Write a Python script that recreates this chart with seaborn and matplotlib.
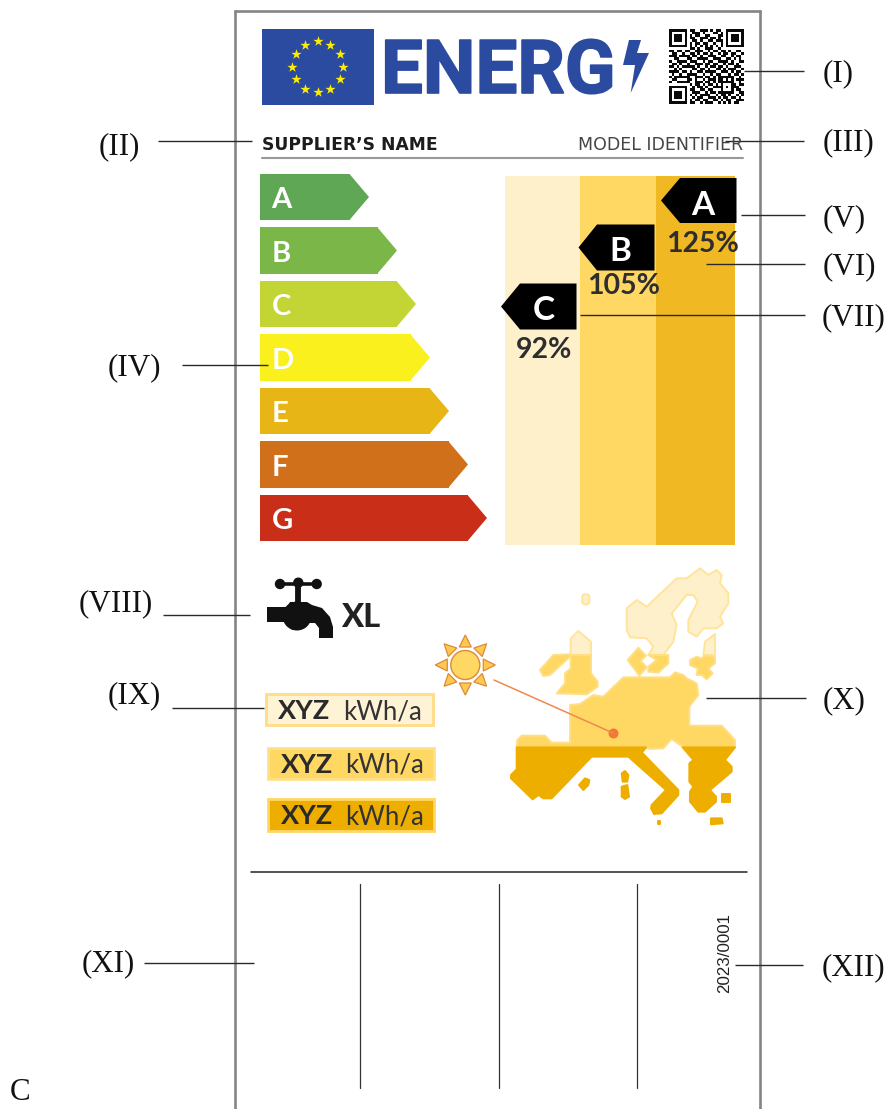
import numpy as np
import matplotlib
matplotlib.use("Agg")
import matplotlib.pyplot as plt
import matplotlib.patheffects as pe
from matplotlib.patches import Polygon, Rectangle, Circle
import seaborn as sns

W, H = 887, 1109

# rating scale
classes = ["A", "B", "C", "D", "E", "F", "G"]
class_lengths = [109, 137, 156, 170, 189, 208, 227]
class_colors = ["#5FA655", "#7AB648", "#C3D435", "#FAF01E", "#E8B517", "#D1701A", "#C92E18"]

# climate zones and efficiencies
zones = ["cold", "average", "warm"]
zone_heights = [1, 1, 1]
zone_colors = ["#FFF0CC", "#FFD763", "#F0B823"]
tag_classes = ["A", "B", "C"]
tag_percents = ["125%", "105%", "92%"]

# annual consumption boxes
consumption = ["XYZ", "XYZ", "XYZ"]
consumption_unit = "kWh/a"
tap_size = "XL"

# callout labels
labels_left = ["(II)", "(IV)", "(VIII)", "(IX)", "(XI)"]
labels_right = ["(I)", "(III)", "(V)", "(VI)", "(VII)", "(X)", "(XII)"]

qr_rows = [
    "11111110110011101011001111111",
    "10000010011101000110101000001",
    "10111010101100110001101011101",
    "10111010110011101101001011101",
    "10111010011010011011101011101",
    "10000010101101100100101000001",
    "11111110101010101010101111111",
    "00000000110100111001000000000",
    "11011011001110010110110100110",
    "01100100110101101001011011001",
    "11101111011010011100110010110",
    "00110001100111100111001101010",
    "10011110111001011001111010011",
    "01101001001110110110010110100",
    "11010111110100101101101001110",
    "00101000011011010011010111001",
    "11110110100110111100111010110",
    "01001001111001001011000101101",
    "10111111001110110101111110010",
    "01100001101001011101101010111",
    "10011111001110110101111110010",
    "00000000101101011010100011011",
    "11111110010110100111101011100",
    "10000010110011011000100010110",
    "10111010011100101101111110011",
    "10111010101011110010110100101",
    "10111010010110011101011011010",
    "10000010101101100110101100111",
    "11111110110010111001010101100",
]

# map outlines, traced at 3x from the map corner
map_pale = [
    [(590, 145), (620, 120), (650, 140), (740, 55), (770, 55), (810, 25), (835, 45), (860, 30), (875, 45),
     (870, 70), (895, 100), (895, 130), (870, 170), (880, 190), (860, 205), (820, 205), (800, 230), (775, 215),
     (775, 180), (803, 125), (790, 105), (770, 105), (725, 160), (740, 195), (730, 245), (700, 285), (655, 285),
     (670, 260), (650, 235), (600, 232), (590, 210)],
    [(820, 285), (825, 245), (855, 222), (855, 285)],
    [(422, 285), (422, 235), (445, 213), (483, 245), (483, 285)],
    [(457, 108), (462, 103), (473, 103), (478, 108), (478, 128), (473, 133), (462, 133), (457, 128)],
]
map_mid = [
    [(420, 435), (450, 432), (490, 405), (520, 410), (580, 352), (720, 352), (735, 337), (760, 345), (770, 355),
     (800, 370), (805, 405), (778, 440), (778, 497), (875, 497), (915, 540), (915, 562), (760, 562), (725, 537),
     (700, 565), (660, 567), (640, 562), (260, 562), (262, 540), (275, 527), (345, 527), (365, 548), (420, 548)],
    [(422, 285), (483, 285), (483, 340), (503, 365), (503, 380), (470, 403), (380, 400), (405, 370), (405, 340), (422, 325)],
    [(330, 330), (370, 285), (420, 283), (420, 290), (360, 345), (340, 348)],
    [(593, 300), (625, 263), (648, 287), (632, 303), (650, 322), (628, 347)],
    [(655, 285), (715, 285), (715, 310), (685, 338), (655, 335), (655, 320), (680, 300)],
    [(780, 300), (800, 290), (815, 295), (825, 285), (855, 290), (855, 310), (835, 325), (848, 340), (830, 358),
     (815, 345), (800, 345), (803, 325), (780, 315)],
]
map_dark = [
    [(260, 562), (648, 562), (636, 578), (745, 690), (745, 705), (695, 760), (672, 762), (663, 745), (665, 735),
     (708, 690), (595, 590), (485, 590), (365, 715), (340, 715), (325, 705), (308, 718), (243, 655), (243, 645), (260, 628)],
    [(758, 562), (915, 562), (885, 600), (905, 620), (905, 635), (840, 690), (858, 710), (858, 725), (825, 755),
     (805, 755), (780, 725), (780, 695), (790, 680), (778, 665), (778, 610), (790, 600)],
    [(447, 675), (465, 655), (478, 660), (475, 675), (460, 690)],
    [(575, 640), (585, 633), (595, 645), (592, 665), (578, 665)],
    [(575, 680), (592, 675), (597, 710), (585, 717), (575, 710)],
    [(875, 703), (900, 703), (900, 727), (875, 727)],
    [(843, 775), (875, 775), (878, 790), (843, 793)],
    [(685, 782), (689, 782), (689, 793), (685, 793)],
]

sns.set_theme(style="white")
plt.rcParams["font.family"] = ["Lato", "DejaVu Sans"]

SERIF = "Liberation Serif"
BLUE = "#2B4BA0"
TIP = 19


def px_axes(x0, y0, x1, y1, zorder=1):
    a = fig.add_axes([x0 / W, 1 - y1 / H, (x1 - x0) / W, (y1 - y0) / H], zorder=zorder)
    return a


def map_px(points):
    return [(430 + x / 3, 560 + y / 3) for x, y in points]


fig = plt.figure(figsize=(W / 100, H / 100), dpi=100, facecolor="white")

# rating arrows: one unit on x is one pixel
ax_bars = px_axes(260, 170.25, 487, 544.75)
sns.barplot(x=class_lengths, y=classes, hue=classes, palette=class_colors, legend=False, orient="h",
            width=0.86, saturation=1, linewidth=0, ax=ax_bars)
ax_bars.set_xlim(0, 227)
ax_bars.set_ylim(6.5, -0.5)
ax_bars.axis("off")
for patch, name, color in zip(ax_bars.patches, classes, class_colors):
    top, bottom = patch.get_y(), patch.get_y() + patch.get_height()
    body = patch.get_width() - TIP
    patch.set_width(body)
    # the tip starts a bit inside the bar so no seam shows
    ax_bars.add_patch(Polygon([(body - 0.5, top), (body + TIP, (top + bottom) / 2), (body - 0.5, bottom)],
                              facecolor=color, edgecolor="none"))
    ax_bars.text(11.5, bottom - 0.22, name, color="white", fontsize=21, fontweight="bold", ha="left", va="baseline")

# climate bands
ax_bands = px_axes(505, 176, 735.5, 545)
sns.barplot(x=zones, y=zone_heights, hue=zones, palette=zone_colors, legend=False, width=1, saturation=1,
            linewidth=0, ax=ax_bands)
ax_bands.set_xlim(505, 735.5)
ax_bands.set_ylim(0, 1)
ax_bands.axis("off")
for patch, (a, b) in zip(ax_bands.patches, [(505, 580.3), (580, 656), (655.7, 735.5)]):
    patch.set_x(a)
    patch.set_width(b - a)

# QR code
ax_qr = px_axes(669, 29, 744, 104)
qr = np.array([[int(c) for c in row] for row in qr_rows])
sns.heatmap(qr, cmap=["white", "#0A0A0A"], cbar=False, xticklabels=False, yticklabels=False, square=False, ax=ax_qr)

# everything else sits on a transparent overlay in pixel coordinates
ax = px_axes(0, 0, W, H, zorder=5)
ax.set_xlim(0, W)
ax.set_ylim(H, 0)
ax.axis("off")
ax.patch.set_alpha(0)

# label frame
for xs, ys in [([235.5, 235.5], [10, H]), ([760, 760], [10, H]), ([234.5, 761], [11, 11])]:
    ax.plot(xs, ys, color="#858585", lw=1.9, solid_capstyle="butt")

# flag
ax.add_patch(Rectangle((262, 29), 112, 76, facecolor=BLUE, edgecolor="none"))
angles = np.deg2rad(np.arange(0, 360, 30))
ax.scatter(317.7 + 25.3 * np.cos(angles), 66.7 + 25.3 * np.sin(angles), marker="*", s=60, color="#FFED00", linewidths=0)

# logo
ax.text(381, 93, "ENERG", color=BLUE, family="Roboto", fontweight="bold", fontsize=53.6, ha="left", va="baseline",
        path_effects=[pe.withStroke(linewidth=1.2, foreground=BLUE)])
ax.add_patch(Polygon([(629, 40), (641, 40), (637, 53), (649, 53), (630.7, 93), (635, 65), (623, 65)],
                     facecolor=BLUE, edgecolor="none"))

# supplier row
ax.text(262, 150, "SUPPLIER’S NAME", family="DejaVu Sans", fontweight="bold", fontsize=12.3, color="#1C1C1C", va="baseline")
ax.text(743, 150, "MODEL IDENTIFIER", family="DejaVu Sans", fontsize=12.5, color="#454545", ha="right", va="baseline")
ax.plot([262, 743], [158, 158], color="#999999", lw=1.5)

# climate tags
tag_boxes = [(661, 680, 736.5, 178, 223), (578.5, 597, 654.5, 224.5, 270.5), (501, 520, 576.5, 283.5, 329.5)]
letter_pos = [(702.7, 215), (620.7, 261), (544, 320)]
percent_pos = [(703, 252), (623.5, 294.3), (544.5, 358.3)]
for box, name, pct, lp, pp in zip(tag_boxes, tag_classes, tag_percents, letter_pos, percent_pos):
    tip, shoulder, right, top, bottom = box
    ax.add_patch(Polygon([(tip, (top + bottom) / 2), (shoulder, top), (right, top), (right, bottom), (shoulder, bottom)],
                         facecolor="black", edgecolor="none"))
    ax.text(lp[0], lp[1], name, color="white", fontsize=24, fontweight="bold", ha="center", va="baseline")
    ax.text(pp[0], pp[1], pct, color="#2E2E2E", fontsize=20.5, fontweight="bold", ha="center", va="baseline")

# tap icon
ax.add_patch(Polygon([(267, 607), (287, 607), (290, 602), (307, 602), (312, 605), (322, 608), (330, 617), (333, 627),
                      (333, 638), (319, 638), (319, 628), (315, 623), (308, 623), (305, 628), (292, 630), (287, 622), (267, 622)],
                     facecolor="#111111", edgecolor="none"))
ax.add_patch(Circle((297, 616), 14.5, facecolor="#111111", edgecolor="none"))
for cx, cy in [(280, 584), (298.3, 582.7), (316.7, 584)]:
    ax.add_patch(Circle((cx, cy), 5.2, facecolor="#111111", edgecolor="none"))
ax.plot([280, 316.7], [584, 584], color="#111111", lw=2.6)
ax.plot([298.3, 298.3], [584, 604], color="#111111", lw=4.2)
ax.text(341, 626.7, tap_size, color="#222222", fontsize=23.5, fontweight="black", va="baseline")

# consumption boxes
box_rows = [(266, 693.5, 167, 31, "#FFF3D6", "#FFDD85", 278, 343, 719.3),
            (268, 747.5, 166, 31, "#FFD763", "#FFE08A", 281, 345.5, 772.7),
            (268, 799, 166, 31.5, "#EDAE00", "#FFD763", 281, 345.5, 824)]
for value, (x, y, w, h, face, edge, tx, ux, base) in zip(consumption, box_rows):
    ax.add_patch(Rectangle((x, y), w, h, facecolor=face, edgecolor=edge, lw=2))
    ax.text(tx, base, value, color="#2A2A2A", fontsize=19.5, fontweight="bold", va="baseline")
    ax.text(ux, base, consumption_unit, color="#333333", fontsize=18.5, va="baseline")

# map
for group, face, edge in [(map_pale, "#FFF0CC", "#FFE49A"), (map_mid, "#FFD763", "#FFDF85"), (map_dark, "#EDAE00", "#EDAE00")]:
    for outline in group:
        ax.add_patch(Polygon(map_px(outline), facecolor=face, edgecolor=edge, lw=1.4, joinstyle="round"))

# sun and pointer
sun_x, sun_y = 465.3, 665
for a in np.deg2rad(np.arange(0, 360, 45)):
    d = np.array([np.cos(a), np.sin(a)])
    n = np.array([-d[1], d[0]])
    c = np.array([sun_x, sun_y])
    ax.add_patch(Polygon([c + 30 * d, c + 18 * d + 6 * n, c + 18 * d - 6 * n], facecolor="#FFC94F", edgecolor="#DC8A3A", lw=0.9))
ax.add_patch(Circle((sun_x, sun_y), 14.5, facecolor="#FFD763", edgecolor="#DC8A3A", lw=1))
ax.plot([494, 613], [680, 733], color="#EE8A50", lw=1.1)
ax.add_patch(Circle((613.5, 733.5), 5, facecolor="#EE7A35", edgecolor="none"))

# bottom part
ax.plot([251, 747], [872, 872], color="#222222", lw=1.1)
for x in [360, 499, 637]:
    ax.plot([x, x], [884, 1088], color="#333333", lw=0.9)
ax.text(725, 953, "2023/0001", family="Liberation Sans", fontsize=12.2, rotation=90, color="#222222", ha="center", va="center")

# callouts
callout_lines = [(744, 804, 71), (158, 252, 141), (725, 804, 141), (182, 268, 365), (741, 805, 215), (706, 805, 264),
                 (580, 805, 315), (163, 250, 615), (172, 264, 708), (706, 806, 698), (144, 254, 963), (735, 803, 965)]
for x0, x1, y in callout_lines:
    ax.plot([x0, x1], [y, y], color="#2A2A2A", lw=1.0, solid_capstyle="butt")

left_pos = [(99, 147), (108, 368), (79, 604), (108, 696), (82, 964)]
for text, (x, y) in zip(labels_left, left_pos):
    ax.text(x, y, text, family=SERIF, fontsize=22.3, color="#111111", ha="left", va="center")
right_pos = [(823, 74), (823, 143), (823, 219), (823, 267), (822, 318), (823, 701), (822, 968)]
for text, (x, y) in zip(labels_right, right_pos):
    ax.text(x, y, text, family=SERIF, fontsize=22.3, color="#111111", ha="left", va="center")
ax.text(10, 1100, "C", family=SERIF, fontsize=22.3, color="#111111", va="baseline")

fig.savefig("out.png", dpi=100)
